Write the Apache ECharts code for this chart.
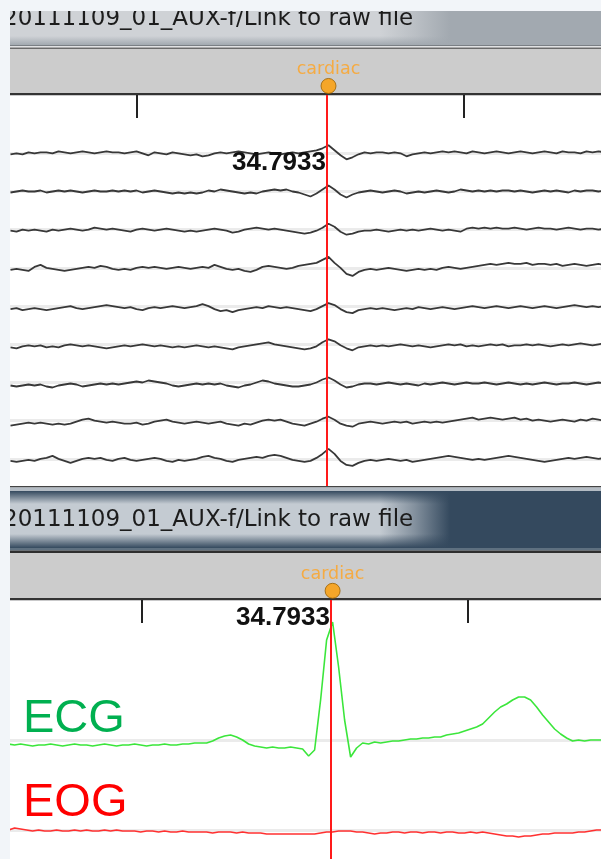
<!DOCTYPE html>
<html>
<head>
<meta charset="utf-8">
<script src="https://cdn.jsdelivr.net/npm/echarts@6.0.0/dist/echarts.min.js"></script>
<style>
  html, body { margin: 0; padding: 0; background: #f2f5f9; }
  #chart { width: 601px; height: 859px; }
</style>
</head>
<body>
<div id="chart"></div>
<script>
// recording info
const fileTitle = '20111109_01_AUX-f/Link to raw file';
const eventName = 'cardiac';
const eventTime = 34.7933;
const tickTimes = [34.5, 35.0];
const sfreq = 108.7;
const eegFirstSample = 34.30572;
const exgFirstSample = 34.29652;

// 9 stacked channels (top view), deflection around each baseline
const eeg1 = [-1,0,-1,1,0,1,1,0,2,1, 0,1,2,1,0,1,2,1,1,0, 1,2,0,-2,1,0,-1,1,0,-1, -2,-1,-3,-2,0,1,0,1,2,1,
  0,-1,0,1,0,-1,0,1,0,1, 2,3,5,8,3,-2,-6,-4,-1,1, 0,1,1,0,1,0,-3,-1,0,1, 0,1,2,1,2,1,0,2,1,0,
  1,2,1,0,1,2,1,0,1,2, 1,0,2,1,1,0,2,1,2,1];
const eeg2 = [-1,0,1,0,0,1,-1,0,1,0, 1,0,-1,0,1,0,0,1,0,1, 0,1,-1,0,1,0,-1,-2,-1,-2, -1,-2,-1,1,0,2,1,0,-1,-2,
  -1,-2,0,1,2,1,2,0,-1,-3, -5,-2,2,6,2,-3,-6,-3,-1,0, 1,0,-1,0,1,0,-2,-1,0,-1, 0,1,0,-1,0,2,1,0,1,0,
  1,0,1,1,0,1,0,-1,0,1, 0,1,0,-1,1,0,1,1,0,1];
const eeg3 = [-1,-2,0,-1,0,-1,-2,0,-1,0, 1,0,-1,0,2,1,0,1,0,-1, -2,0,1,0,-1,0,1,0,-1,-2, -1,-2,-1,0,1,0,-1,-3,-2,0,
  1,2,1,0,1,0,-1,-2,-3,-4, -3,-1,2,6,3,-2,-5,-4,-2,-1, -1,0,-1,-2,-1,0,-1,0,-1,0, 1,0,-1,0,-1,-2,1,2,1,2,
  1,2,1,1,2,1,0,1,2,1, 1,0,1,2,1,0,1,1,0,1];
const eeg4 = [-2,-1,-2,-3,1,3,0,-1,-2,-3, -2,-1,0,1,0,2,1,-1,-2,-1, -2,0,1,0,1,0,-1,0,1,0, -1,0,1,0,3,1,-1,-2,-1,-3,
  -4,-2,1,2,1,0,-1,0,2,3, 4,5,8,11,5,0,-6,-8,-4,-2, -1,-2,-1,0,-1,-2,-3,-2,-1,-2, -1,-2,0,1,0,-1,0,1,2,3,
  4,3,4,5,4,4,5,3,4,4, 3,4,2,3,4,3,2,3,4,3];
const eeg5 = [-3,-2,-4,-3,-2,-3,-4,-3,-2,-1, 0,-2,-3,-2,-1,0,1,0,-1,-2, -1,-3,-4,-2,-1,-2,-1,0,-1,-2, -1,0,2,0,-3,-5,-4,-6,-4,-3,
  -2,-1,-2,0,-1,-2,-1,-2,-3,-4, -5,-3,0,3,1,-3,-6,-7,-4,-3, -2,-3,-2,-3,-4,-3,-2,-3,-1,-2, -3,-2,-1,-2,-3,-2,-1,0,-1,-2,
  -1,0,-1,-2,-1,0,-1,-2,-1,0, -1,-2,-1,0,1,0,-1,0,-1,0];
const eeg6 = [-3,-4,-2,-1,-2,-1,-3,-2,-3,-1, 0,-1,-2,-1,-2,-3,-4,-3,-2,-1, -2,-1,0,-1,-2,-1,-2,-3,-2,-3, -2,-1,-2,-3,-2,-3,-4,-5,-3,-2,
  -1,0,1,2,0,-1,-2,-3,-4,-5, -4,-2,2,5,3,-1,-4,-6,-3,-2, -1,-2,-1,-2,-1,0,-1,-2,-1,-2, -3,-2,-1,0,-1,0,-2,-1,-2,-1,
  0,-1,0,-2,-1,-1,0,-1,0,-1, -2,-1,0,-1,0,1,0,-1,0,1];
const eeg7 = [-3,-4,-3,-2,-3,-2,-4,-5,-3,-2, -1,-2,-4,-3,-2,-1,-2,-1,-2,-1, 0,1,0,2,1,0,-1,-3,-4,-3, -2,-1,-2,-1,-2,-1,-3,-4,-5,-3,
  -2,0,2,1,-1,-2,-3,-4,-4,-3, -2,0,3,5,2,-2,-5,-4,-2,-1, -1,-2,-1,0,-1,-2,-1,-2,-3,-1, -2,-1,0,-1,-2,-1,0,-1,-1,0,
  -1,-2,-1,0,-1,-2,-1,-2,-1,0, -1,-2,-1,-1,0,-1,-2,-1,0,-1];
const eeg8 = [-5,-4,-3,-2,-3,-2,-3,-4,-3,-4, -3,-1,1,2,0,-1,-2,-1,-2,-3, -3,-2,-4,-3,-1,0,1,-1,-2,-3, -2,-1,-2,-3,-2,-1,-3,-4,-5,-3,
  -4,-2,0,1,0,1,-1,-3,-4,-5, -3,-1,2,4,1,-3,-5,-6,-3,-2, -1,-2,-3,-2,-1,-2,-1,-3,-2,-1, -2,-1,-2,-1,0,1,2,3,1,2,
  3,2,1,2,3,1,2,0,1,0, -1,0,1,0,-1,1,0,2,1,0];
const eeg9 = [-2,-3,-2,-1,-2,0,1,3,0,-2, -4,-2,0,1,0,1,-1,-2,0,1, -1,-2,-1,0,1,0,-2,-3,-1,-2, -1,0,2,3,1,0,-2,-3,-1,0,
  1,2,1,3,4,3,1,-1,-2,-3, -2,1,5,10,5,-2,-6,-7,-4,-2, -1,-2,-1,0,-1,-2,-1,-3,-2,-1, 0,1,2,3,2,1,0,-1,0,-1,
  0,1,2,3,2,1,0,-1,-2,-3, -2,-1,0,1,0,1,2,1,0,1];

// bottom view: ECG and EOG
const ecgTrace = [-4,-5,-4,-5,-6,-5,-5,-4,-5,-6, -5,-4,-5,-5,-6,-5,-4,-5,-6,-5, -5,-4,-5,-6,-5,-5,-4,-5,-5,-4,
  -4,-3,-3,-3,-1,2,4,5,3,0, -4,-6,-7,-8,-7,-8,-8,-7,-8,-9, -16,-10,40,100,118,73,20,-17,-8,-3,
  -4,-2,-3,-2,-1,-1,0,1,1,2, 2,3,3,5,6,7,9,11,13,16, 22,28,33,36,40,43,43,40,33,25,
  18,11,6,2,-1,0,-1,0,0,0, 0];
const eogTrace = [0,2,1,0,-1,0,-1,-1,0,-1, -1,0,-1,0,-1,-1,0,-1,0,-1, -1,-1,-2,-1,-1,-2,-1,-2,-2,-1,
  -2,-2,-2,-2,-3,-2,-2,-2,-3,-2, -3,-3,-3,-4,-4,-4,-4,-4,-4,-4, -4,-4,-3,-2,-2,-1,-1,-1,-2,-2,
  -3,-4,-3,-3,-2,-2,-3,-2,-2,-3, -2,-2,-3,-2,-2,-3,-3,-2,-3,-2, -3,-4,-5,-6,-6,-7,-6,-6,-5,-4,
  -4,-3,-3,-3,-3,-2,-2,-1,0,0, 1];
const exgNames = ['ECG', 'EOG'];

const eegTraces = [eeg1, eeg2, eeg3, eeg4, eeg5, eeg6, eeg7, eeg8, eeg9];

const chart = echarts.init(document.getElementById('chart'), null, { renderer: 'canvas' });

const pxPerSec = 652.2;
const topMin = eventTime - 318.5 / pxPerSec;
const botMin = eventTime - 322.6 / pxPerSec;
const span = 591 / pxPerSec;

const topBase = (k) => 332.7 - k * 38.2;
const ecgBase = 119;
const eogBase = 29;
const markerRow = 0.16;

const baseLine = (y) => ({
  z: 1,
  silent: true,
  symbol: ['none', 'none'],
  label: { show: false },
  lineStyle: { color: '#ebebeb', width: 3, type: 'solid' },
  data: [{ yAxis: y }],
});

const eventLine = {
  z: 10,
  silent: true,
  symbol: ['none', 'none'],
  label: { show: false },
  lineStyle: { color: '#ff1a1a', width: 2, type: 'solid' },
  data: [{ xAxis: eventTime }],
};

const plotAxis = (grid, min) => ({
  type: 'value',
  gridIndex: grid,
  position: 'top',
  z: 5,
  min: min,
  max: min + span,
  axisLine: { show: false, onZero: false },
  axisLabel: { show: false },
  splitLine: { show: false },
  axisTick: {
    show: true,
    inside: true,
    length: 23,
    customValues: tickTimes,
    lineStyle: { color: '#222', width: 2 },
  },
});

const hiddenX = (grid, min) => ({ type: 'value', gridIndex: grid, min: min, max: min + span, show: false });
const hiddenY = (grid, max) => ({ type: 'value', gridIndex: grid, min: 0, max: max, show: false });

const markerSeries = (axis) => ({
  type: 'scatter',
  xAxisIndex: axis,
  yAxisIndex: axis,
  symbol: 'circle',
  symbolSize: 15,
  silent: true,
  itemStyle: { color: '#ff9c00', borderColor: '#9a6000', borderWidth: 1 },
  label: {
    show: true,
    position: 'top',
    distance: 2,
    offset: [0, 2.5],
    formatter: eventName,
    color: '#ffa320',
    fontFamily: 'DejaVu Sans',
    fontSize: 17.5,
  },
  data: [[eventTime, markerRow]],
});

const series = [markerSeries(0), markerSeries(2)];

eegTraces.forEach((trace, k) => {
  series.push({
    type: 'line',
    xAxisIndex: 1,
    yAxisIndex: 1,
    symbol: 'none',
    silent: true,
    lineStyle: { color: '#383838', width: 1.8 },
    data: trace.map((v, i) => [eegFirstSample + i / sfreq, topBase(k) + v]),
    markLine: baseLine(topBase(k)),
  });
});
series.push({ type: 'line', xAxisIndex: 1, yAxisIndex: 1, data: [], markLine: eventLine });

series.push({
  type: 'line',
  xAxisIndex: 3,
  yAxisIndex: 3,
  symbol: 'none',
  silent: true,
  lineStyle: { color: '#3be63b', width: 1.6 },
  data: ecgTrace.map((v, i) => [exgFirstSample + i / sfreq, ecgBase + v]),
  markLine: baseLine(ecgBase),
});
series.push({
  type: 'line',
  xAxisIndex: 3,
  yAxisIndex: 3,
  symbol: 'none',
  silent: true,
  lineStyle: { color: '#ff3030', width: 1.6 },
  data: eogTrace.map((v, i) => [exgFirstSample + i / sfreq, eogBase + v]),
  markLine: baseLine(eogBase),
});
series.push({ type: 'line', xAxisIndex: 3, yAxisIndex: 3, data: [], markLine: eventLine });

const rect = (x, y, w, h, fill, extra) =>
  Object.assign({ type: 'rect', z: 0, shape: { x: x, y: y, width: w, height: h }, style: { fill: fill } }, extra || {});

const rgba = (hex, a) => {
  const n = parseInt(hex.slice(1), 16);
  return 'rgba(' + (n >> 16) + ',' + ((n >> 8) & 255) + ',' + (n & 255) + ',' + a + ')';
};

// light patch behind the title, fading to the bar colour on the right
const hGlow = (y, h, light) => rect(10, y, 440, h, new echarts.graphic.LinearGradient(0, 0, 1, 0, [
  { offset: 0, color: light },
  { offset: 0.84, color: light },
  { offset: 0.92, color: rgba(light, 0.55) },
  { offset: 1, color: rgba(light, 0) },
]));
const vFade = (y, h, dark, down) => rect(10, y, 591, h, new echarts.graphic.LinearGradient(0, 0, 0, 1, [
  { offset: 0, color: down ? rgba(dark, 0) : dark },
  { offset: 1, color: down ? dark : rgba(dark, 0) },
]));

const text = (x, y, str, font, color, align, z) => ({
  type: 'text',
  z: z || 0,
  x: x,
  y: y,
  style: {
    text: str,
    font: font,
    fill: color,
    align: align || 'left',
    verticalAlign: 'middle',
  },
});

const graphics = [
  // top panel header
  rect(10, 11, 591, 34, '#a2a9b0'),
  hGlow(11, 34, '#cfd2d6'),
  vFade(36, 9, '#a2a9b0', true),
  text(3, 19, fileTitle, '23px "DejaVu Sans"', '#1c1c1c'),
  rect(10, 45, 591, 1.2, '#7a7f84'),
  rect(10, 46.2, 591, 1.3, '#e6e6e6'),
  rect(10, 47.5, 591, 1.5, '#6a6a6a'),
  rect(10, 49, 591, 44, '#cccccc'),
  rect(10, 93, 591, 2.5, '#333333'),
  rect(10, 95.5, 591, 390.5, '#ffffff'),

  // bottom panel header
  rect(10, 491, 591, 57, '#34495e'),
  hGlow(491, 57, '#c4cbd2'),
  vFade(491, 13, '#34495e', false),
  vFade(534, 14, '#34495e', true),
  text(3, 520, fileTitle, '23px "DejaVu Sans"', '#1c1c1c'),
  rect(10, 486, 591, 1.5, '#444444'),
  rect(10, 487.5, 591, 3.5, '#b4bcc4'),
  rect(10, 548, 591, 2.5, '#5e7080'),
  rect(10, 550.5, 591, 2.5, '#2e2e2e'),
  rect(10, 553, 591, 45, '#cccccc'),
  rect(10, 598, 591, 2.5, '#333333'),
  rect(10, 600.5, 591, 258.5, '#ffffff'),

  // time cursor readouts and channel names
  text(326, 162.5, String(eventTime), 'bold 26px "Liberation Sans"', '#111111', 'right', 50),
  text(330, 617.5, String(eventTime), 'bold 26px "Liberation Sans"', '#111111', 'right', 50),
  text(23, 719, exgNames[0], '47px "Liberation Sans"', '#00b050', 'left', 50),
  text(23, 803, exgNames[1], '47px "Liberation Sans"', '#ff0000', 'left', 50),

  // window margins
  rect(0, 0, 10, 859, '#f2f5f9', { z: 100 }),
  rect(0, 0, 601, 11, '#f2f5f9', { z: 100 }),
];

const option = {
  backgroundColor: '#f2f5f9',
  animation: false,
  grid: [
    { left: 10, right: 0, top: 49, height: 44 },
    { left: 10, right: 0, top: 95, height: 391 },
    { left: 10, right: 0, top: 553, height: 45 },
    { left: 10, right: 0, top: 600, height: 259 },
  ],
  xAxis: [hiddenX(0, topMin), plotAxis(1, topMin), hiddenX(2, botMin), plotAxis(3, botMin)],
  yAxis: [hiddenY(0, 1), hiddenY(1, 391), hiddenY(2, 1), hiddenY(3, 259)],
  graphic: { elements: graphics },
  series: series,
};

chart.setOption(option);
</script>
</body>
</html>
